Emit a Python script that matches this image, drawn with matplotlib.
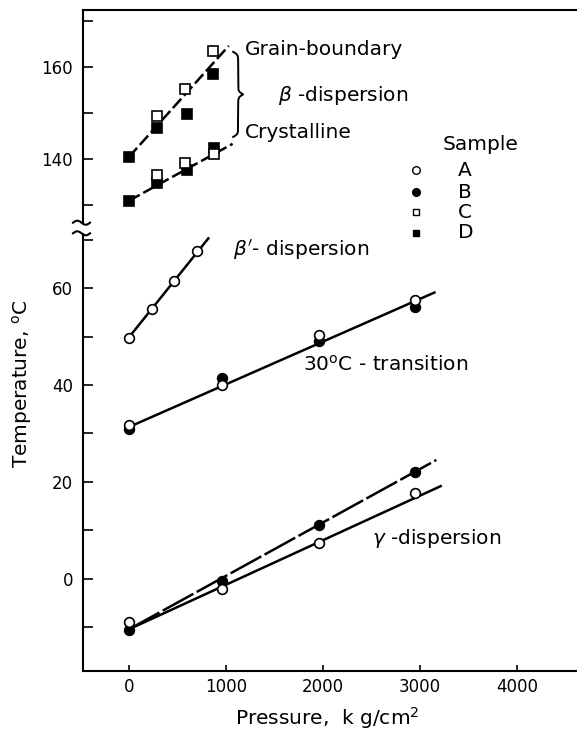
import numpy as np
import matplotlib.pyplot as plt
from matplotlib.lines import Line2D

plt.rcParams['font.family'] = ['DejaVu Sans']
plt.rcParams['mathtext.fontset'] = 'dejavusans'

# --- beta-dispersion (upper panel), samples C (open) and D (filled) ---
gb_c_p = [290, 580, 870]
gb_c_t = [149.3, 155.2, 163.5]
gb_d_p = [0, 290, 600, 870]
gb_d_t = [140.4, 146.8, 149.7, 158.5]
gb_fit_p = [0, 1030]
gb_fit_t = [140.4, 164.6]

cr_c_p = [290, 580, 880]
cr_c_t = [136.5, 139.1, 141.1]
cr_d_p = [0, 290, 600, 880]
cr_d_t = [130.9, 134.8, 137.6, 142.3]
cr_fit_p = [0, 1070]
cr_fit_t = [130.9, 143.3]

# --- beta'-dispersion, sample A ---
bp_p = [0, 235, 470, 705]
bp_t = [49.8, 55.8, 61.5, 67.7]
bp_fit_p = [0, 820]
bp_fit_t = [49.8, 70.3]

# --- 30 C transition, samples A and B ---
tr_p = [0, 960, 1960, 2950]
tr_a = [31.8, 39.9, 50.4, 57.5]
tr_b = [31.0, 41.5, 49.0, 56.1]
tr_fit_p = [0, 3150]
tr_fit_t = [31.3, 59.1]

# --- gamma-dispersion, samples A and B ---
ga_p = [0, 960, 1960, 2950]
ga_a = [-9.0, -2.1, 7.3, 17.7]
ga_b = [-10.6, -0.5, 11.1, 22.0]
ga_a_fit_p = [0, 3215]
ga_a_fit_t = [-10.5, 19.1]
ga_b_fit_p = [0, 3170]
ga_b_fit_t = [-10.5, 24.5]

x_ticks = [0, 1000, 2000, 3000, 4000]
samples = ['A', 'B', 'C', 'D']
sample_marker = ['o', 'o', 's', 's']
sample_fill = ['white', 'black', 'white', 'black']

W, H = 577, 732
fig = plt.figure(figsize=(W / 100, H / 100), dpi=100)

def fx(px):
    return px / W

def fy(py):
    return 1 - py / H

left = 82.7
ax_top = fig.add_axes([fx(left), fy(222), 1 - fx(left), fy(10) - fy(222)])
ax_bot = fig.add_axes([fx(left), fy(671), 1 - fx(left), fy(234) - fy(671)])

for ax in (ax_top, ax_bot):
    ax.set_xlim(-475, 4620)
    ax.spines['right'].set_visible(False)
    for s in ax.spines.values():
        s.set_linewidth(1.5)
ax_top.spines['bottom'].set_visible(False)
ax_bot.spines['top'].set_visible(False)

ax_top.set_ylim(126.3, 172.4)
ax_bot.set_ylim(-19.1, 71.2)

ax_top.set_xticks([])
ax_bot.set_xticks(x_ticks)
ax_bot.tick_params(axis='x', direction='in', length=4, width=1.2, labelsize=12, pad=5)

ax_top.set_yticks([140, 160])
ax_top.set_yticks([130, 150, 170], minor=True)
ax_bot.set_yticks([0, 20, 40, 60])
ax_bot.set_yticks([-10, 10, 30, 50, 70], minor=True)
for ax in (ax_top, ax_bot):
    ax.tick_params(axis='y', which='both', direction='in', length=7, width=1.2,
                   labelsize=12, pad=7)

lw = 1.8
ms = 7
mew = 1.2

# upper panel: beta-dispersion lines (dashed)
ax_top.plot(gb_fit_p, gb_fit_t, color='black', lw=lw, dashes=(5, 1.6))
ax_top.plot(cr_fit_p, cr_fit_t, color='black', lw=lw, dashes=(5, 1.6))
for p, t in ((gb_d_p, gb_d_t), (cr_d_p, cr_d_t)):
    ax_top.plot(p, t, 's', ms=6.5, mfc='black', mec='black', mew=mew, zorder=3)
for p, t in ((gb_c_p, gb_c_t), (cr_c_p, cr_c_t)):
    ax_top.plot(p, t, 's', ms=6.5, mfc='white', mec='black', mew=mew, zorder=4)

# lower panel
ax_bot.plot(bp_fit_p, bp_fit_t, color='black', lw=lw)
ax_bot.plot(bp_p, bp_t, 'o', ms=ms, mfc='white', mec='black', mew=mew, zorder=4)

ax_bot.plot(tr_fit_p, tr_fit_t, color='black', lw=lw)
ax_bot.plot(tr_p, tr_b, 'o', ms=ms, mfc='black', mec='black', mew=mew, zorder=3)
ax_bot.plot(tr_p, tr_a, 'o', ms=ms, mfc='white', mec='black', mew=mew, zorder=4)

ax_bot.plot(ga_b_fit_p, ga_b_fit_t, color='black', lw=lw, dashes=(14, 1.5))
ax_bot.plot(ga_a_fit_p, ga_a_fit_t, color='black', lw=lw)
ax_bot.plot(ga_p, ga_b, 'o', ms=ms, mfc='black', mec='black', mew=mew, zorder=3)
ax_bot.plot(ga_p, ga_a, 'o', ms=ms, mfc='white', mec='black', mew=mew, zorder=4)

# curve labels
fs = 14.5
ax_top.text(1200, 163.9, 'Grain-boundary', fontsize=fs, va='center')
ax_top.text(1540, 153.9, r'$\beta$ -dispersion', fontsize=fs, va='center')
ax_top.text(1200, 145.7, 'Crystalline', fontsize=fs, va='center')
ax_bot.text(1077, 68.0, r"$\beta'$- dispersion", fontsize=fs, va='center')
ax_bot.text(1800, 44.1, r'30$^{\rm o}$C - transition', fontsize=fs, va='center')
ax_bot.text(2508, 8.3, r'$\gamma$ -dispersion', fontsize=fs, va='center')

# curly brace joining the two beta-dispersion branches
def brace(ax, x0, y_lo, y_hi, width, beta=60.0):
    u = np.linspace(0, 0.5, 200)
    half = (1 / (1 + np.exp(-beta * (u - u[0])))
            + 1 / (1 + np.exp(-beta * (u - u[-1]))))
    prof = np.concatenate((half, half[-2::-1])) - 0.5
    ys = np.linspace(y_hi, y_lo, prof.size)
    ax.plot(x0 + width * prof, ys, color='black', lw=1.4, clip_on=False)

brace(ax_top, 1076, 144.8, 163.3, 103)

# axis labels
ax_bot.set_xlabel(r'Pressure,  k g/cm$^2$', fontsize=fs)
ax_bot.xaxis.set_label_coords((327 - left) / (W - left), (671 - 718) / (671 - 234))
ax_bot.xaxis.label.set_va('center')
fig.text(fx(22), fy(384), 'Temperature, $^{\\rm o}$C', rotation=90,
         ha='center', va='center', fontsize=fs)

# sample key
fig.text(fx(481), fy(145), 'Sample', ha='center', va='center', fontsize=fs)
for i, (lab, mk, fc) in enumerate(zip(samples, sample_marker, sample_fill)):
    yy = fy([170, 192, 212, 233][i])
    fig.add_artist(Line2D([fx(416)], [yy], marker=mk, ms=5.5 if mk == 'o' else 5,
                          mfc=fc, mec='black', mew=1.0, transform=fig.transFigure))
    fig.text(fx(458), yy, lab, ha='left', va='center', fontsize=fs)

# axis break marks on the left spine
t = np.linspace(0, 1, 50)
for yb in (222.7, 233.3):
    xs = fx(73 + 17 * t)
    ys = fy(yb - 2.0 * np.sin(2 * np.pi * t))
    fig.add_artist(Line2D(xs, ys, color='black', lw=1.5, transform=fig.transFigure))

fig.savefig('out.png', dpi=100)
